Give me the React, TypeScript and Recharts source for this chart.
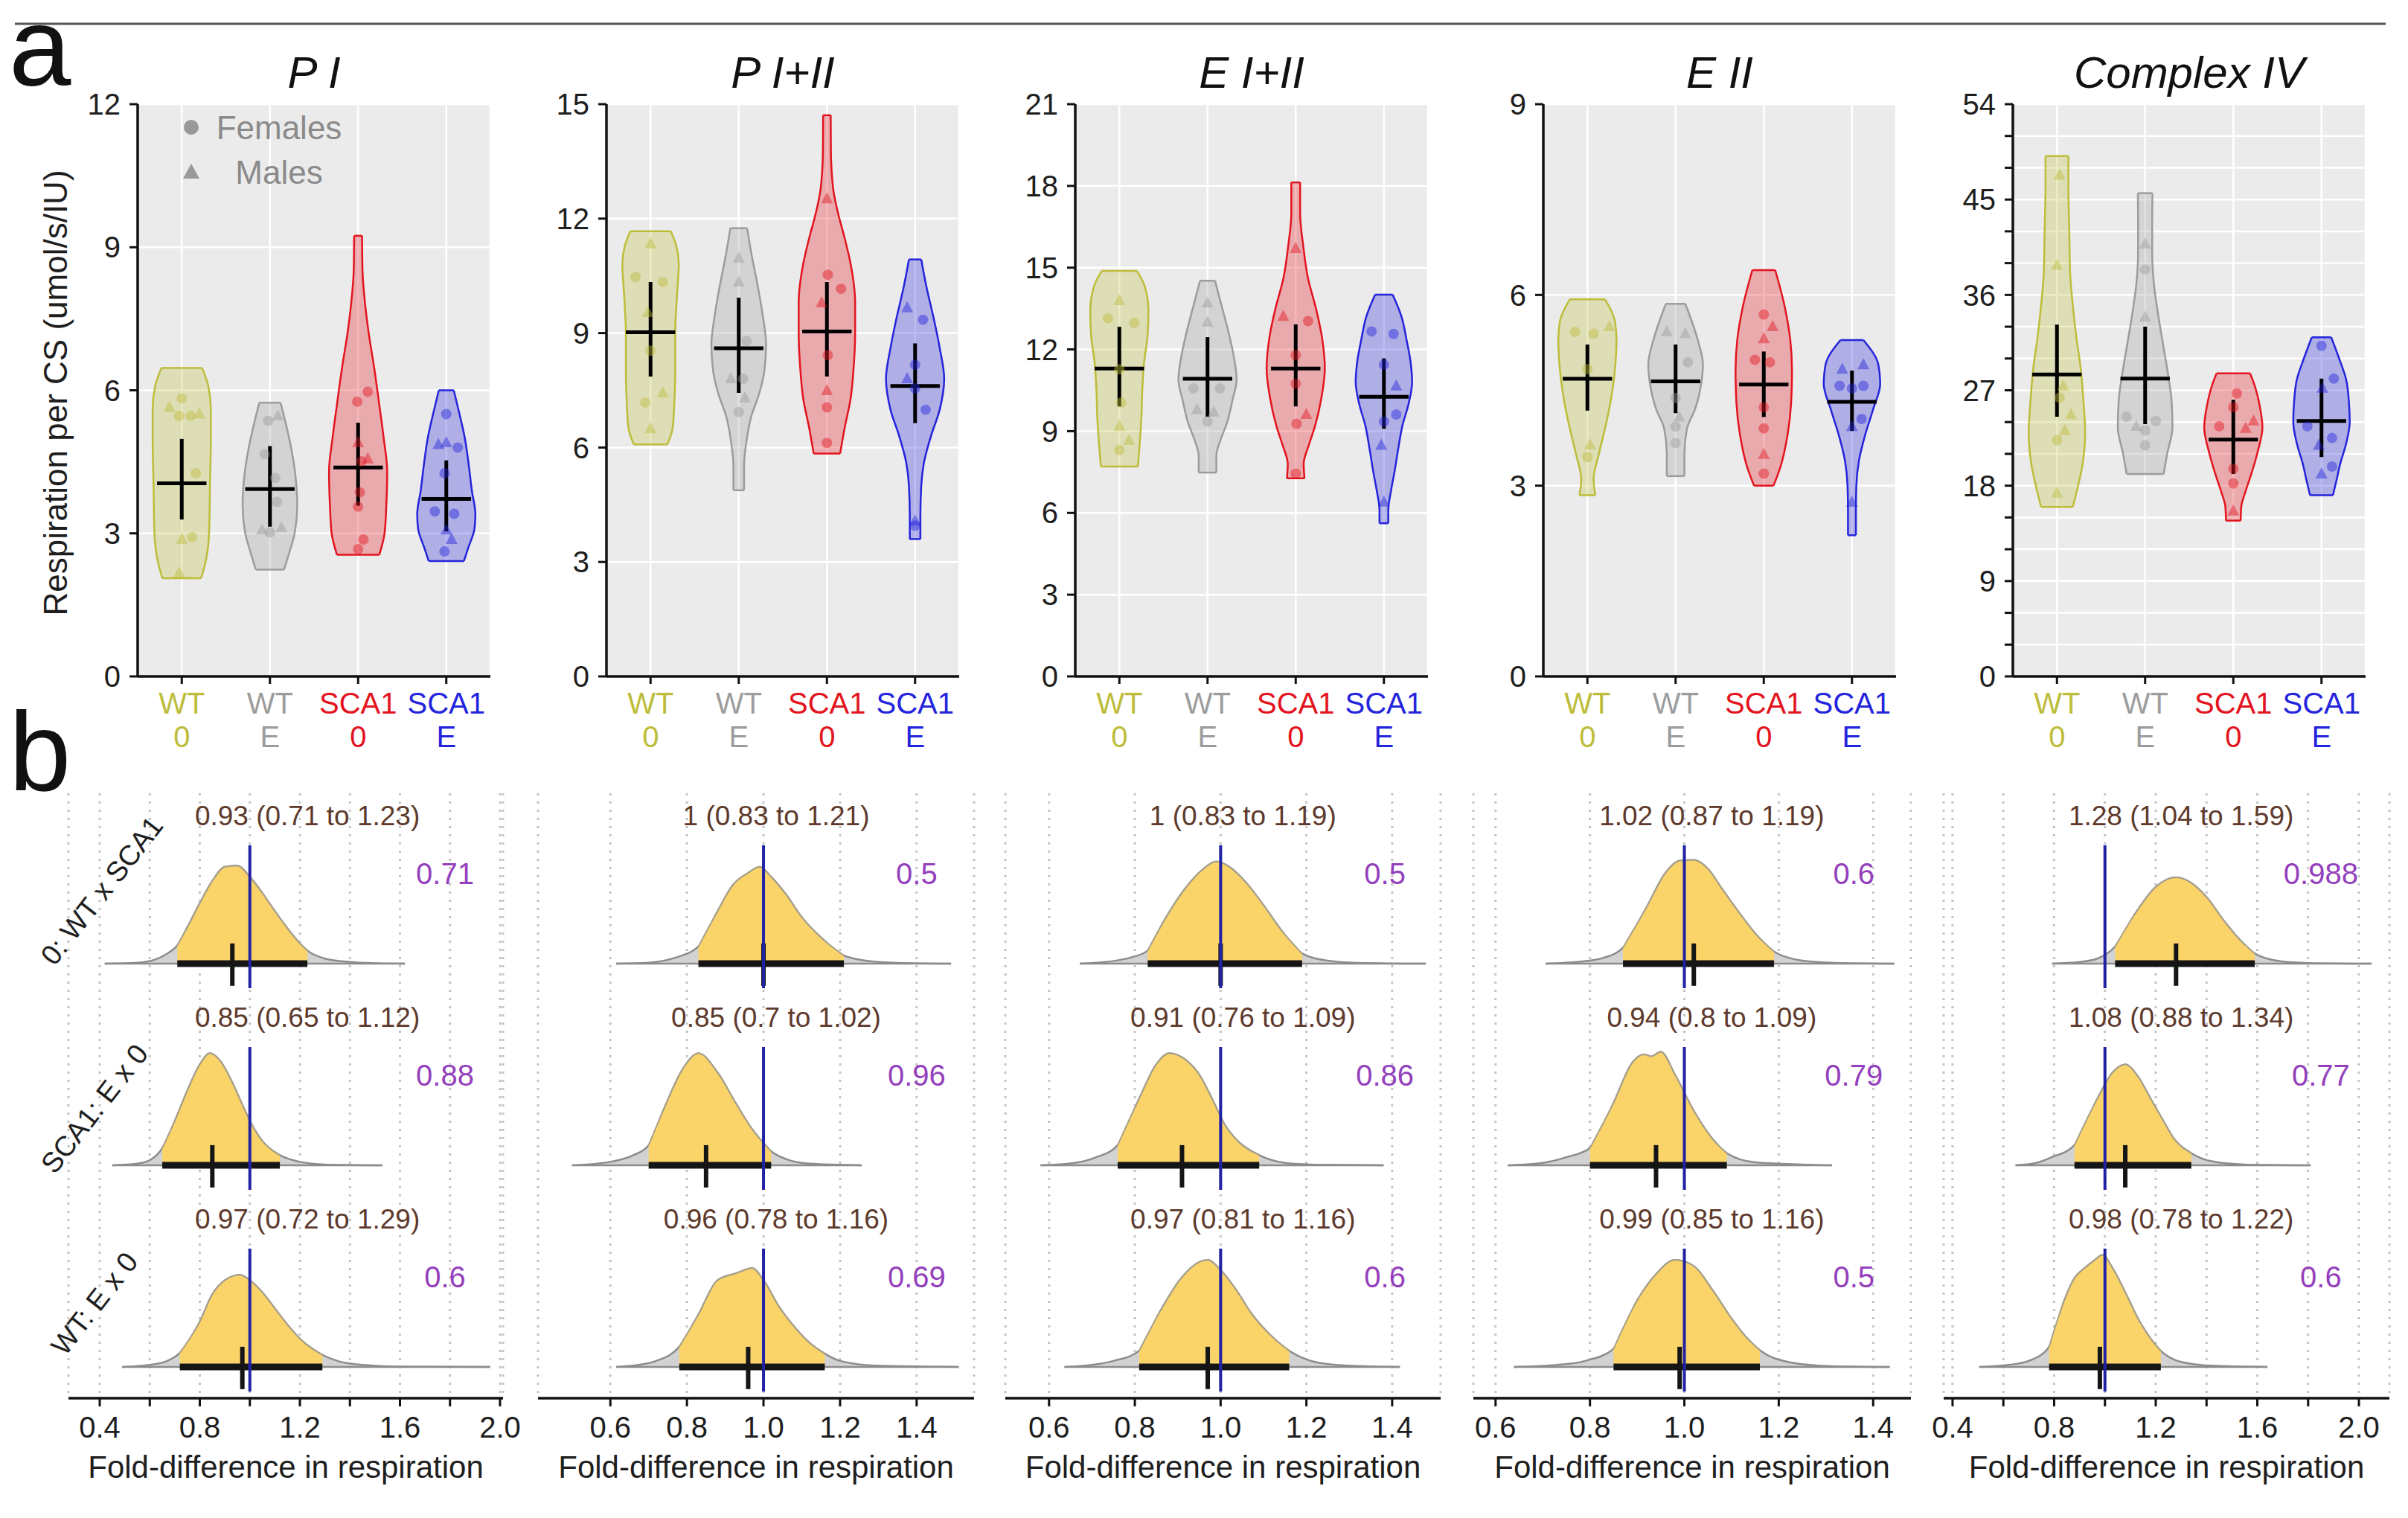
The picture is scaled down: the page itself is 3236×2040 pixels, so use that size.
import React from "react";
import {
  ComposedChart, Area, Scatter, XAxis, YAxis, CartesianGrid, ReferenceLine,
} from "recharts";

const FONT = "'Liberation Sans', Arial, sans-serif";

// groups on the x axis of panel a
const GROUP_TOP = ["WT", "WT", "SCA1", "SCA1"];
const GROUP_BOTTOM = ["0", "E", "0", "E"];
const GROUP_COLORS = ["#BDBD3A", "#9C9C9C", "#E3141E", "#2424DC"];

const PANEL_TITLES = ["P I", "P I+II", "E I+II", "E II", "Complex IV"];
const PANEL_MAX = [12, 15, 21, 9, 54];
const PANEL_LABEL_STEP = [3, 3, 3, 3, 9];
const PANEL_LEFT = [185, 815, 1445, 2074, 2705];

// violin outlines: [value, half-width in category units]
const violinPI = [
  [[2.06, 0.22], [2.4, 0.27], [3.0, 0.31], [4.0, 0.32], [5.0, 0.33], [5.6, 0.33], [6.1, 0.3], [6.47, 0.23]],
  [[2.24, 0.16], [2.6, 0.22], [3.0, 0.28], [3.6, 0.31], [4.2, 0.29], [4.8, 0.24], [5.3, 0.18], [5.74, 0.12]],
  [[2.55, 0.24], [3.0, 0.3], [3.6, 0.32], [4.3, 0.33], [5.0, 0.29], [5.7, 0.24], [6.5, 0.18], [7.2, 0.12], [7.8, 0.08], [8.5, 0.05], [9.24, 0.045]],
  [[2.42, 0.2], [2.7, 0.25], [3.1, 0.32], [3.4, 0.33], [3.9, 0.29], [4.5, 0.25], [5.0, 0.21], [5.5, 0.15], [6.0, 0.085]],
];
const violinPII = [
  [[6.08, 0.19], [6.5, 0.25], [7.2, 0.27], [8.0, 0.28], [9.0, 0.28], [10.0, 0.3], [10.8, 0.32], [11.3, 0.29], [11.67, 0.23]],
  [[4.88, 0.06], [5.5, 0.06], [6.2, 0.09], [6.8, 0.14], [7.4, 0.23], [8.0, 0.29], [8.7, 0.31], [9.5, 0.27], [10.3, 0.21], [11.0, 0.15], [11.75, 0.095]],
  [[5.84, 0.15], [6.5, 0.2], [7.3, 0.27], [8.0, 0.3], [9.0, 0.32], [9.8, 0.32], [10.8, 0.27], [11.5, 0.2], [12.2, 0.12], [12.8, 0.07], [13.8, 0.045], [14.71, 0.043]],
  [[3.6, 0.06], [4.2, 0.06], [5.0, 0.07], [5.6, 0.1], [6.3, 0.18], [7.0, 0.28], [7.8, 0.33], [8.6, 0.28], [9.4, 0.21], [10.2, 0.13], [10.93, 0.07]],
];
const violinEI = [
  [[7.7, 0.21], [8.5, 0.23], [9.5, 0.25], [10.5, 0.26], [11.5, 0.28], [12.5, 0.32], [13.4, 0.33], [14.3, 0.29], [14.88, 0.2]],
  [[7.48, 0.1], [8.1, 0.1], [8.7, 0.15], [9.3, 0.22], [10.1, 0.28], [10.9, 0.33], [11.7, 0.3], [12.6, 0.24], [13.6, 0.16], [14.52, 0.085]],
  [[7.27, 0.1], [7.8, 0.09], [8.5, 0.15], [9.2, 0.22], [10.2, 0.29], [11.3, 0.33], [12.4, 0.3], [13.5, 0.23], [14.6, 0.14], [15.8, 0.085], [17.0, 0.05], [18.13, 0.05]],
  [[5.62, 0.05], [6.1, 0.05], [6.8, 0.08], [7.5, 0.12], [8.3, 0.16], [9.2, 0.21], [10.0, 0.28], [10.8, 0.32], [11.6, 0.3], [12.3, 0.26], [13.2, 0.2], [14.01, 0.1]],
];
const violinEII = [
  [[2.85, 0.09], [3.1, 0.07], [3.5, 0.13], [3.9, 0.2], [4.3, 0.26], [4.8, 0.31], [5.3, 0.33], [5.6, 0.31], [5.93, 0.2]],
  [[3.15, 0.1], [3.5, 0.1], [3.9, 0.13], [4.2, 0.22], [4.6, 0.29], [4.9, 0.31], [5.3, 0.25], [5.6, 0.18], [5.86, 0.11]],
  [[3.0, 0.11], [3.3, 0.19], [3.8, 0.27], [4.3, 0.31], [4.8, 0.32], [5.3, 0.3], [5.8, 0.24], [6.39, 0.13]],
  [[2.22, 0.045], [2.6, 0.045], [3.0, 0.05], [3.4, 0.08], [3.8, 0.15], [4.2, 0.24], [4.6, 0.32], [4.9, 0.3], [5.29, 0.13]],
];
const violinCIV = [
  [[16.0, 0.18], [18.0, 0.24], [20.0, 0.29], [23.0, 0.32], [26.0, 0.3], [29.0, 0.27], [32.0, 0.22], [35.0, 0.18], [38.0, 0.15], [42.0, 0.14], [46.0, 0.13], [49.1, 0.13]],
  [[19.1, 0.21], [21.0, 0.25], [23.5, 0.31], [26.0, 0.3], [28.5, 0.26], [31.0, 0.21], [34.0, 0.15], [37.0, 0.1], [40.0, 0.08], [43.0, 0.08], [45.6, 0.083]],
  [[14.7, 0.083], [16.0, 0.09], [17.5, 0.14], [19.0, 0.2], [21.0, 0.27], [23.5, 0.33], [25.5, 0.3], [27.5, 0.24], [28.6, 0.19]],
  [[17.1, 0.13], [18.5, 0.17], [20.0, 0.21], [22.0, 0.28], [24.0, 0.32], [26.0, 0.31], [28.0, 0.28], [30.0, 0.2], [32.0, 0.11]],
];

// individual animals: [jitter, value, male?]
const pointsPI = [
  [[0, 5.83, 0], [-0.14, 5.64, 1], [0.1, 5.46, 0], [-0.03, 5.46, 0], [0.2, 5.5, 1], [0.16, 4.26, 0], [0, 2.87, 1], [0.12, 2.92, 0], [-0.03, 2.17, 1]],
  [[0.09, 5.46, 1], [-0.02, 5.36, 0], [0.06, 4.16, 0], [-0.09, 3.07, 1], [0, 3.02, 0], [0.13, 3.12, 1], [-0.06, 4.66, 0], [0.08, 3.66, 0]],
  [[0.11, 5.97, 0], [-0.01, 5.76, 0], [0, 4.9, 1], [0.04, 4.51, 0], [0.11, 4.56, 1], [0.02, 3.86, 0], [0, 3.56, 0], [0.06, 2.87, 0], [0, 2.67, 0]],
  [[0, 5.5, 0], [0, 4.9, 1], [0.13, 4.8, 0], [-0.09, 4.86, 1], [-0.02, 4.26, 0], [-0.13, 3.46, 0], [0.09, 3.41, 0], [0, 3.07, 1], [0.06, 2.87, 1], [-0.02, 2.62, 0]],
];
const pointsPII = [
  [[0, 11.34, 1], [-0.17, 10.47, 0], [0.14, 10.34, 0], [-0.03, 9.54, 1], [0, 8.54, 0], [0.14, 7.43, 1], [-0.06, 7.18, 0], [0, 6.49, 1]],
  [[0, 10.96, 1], [0, 10.34, 1], [0.09, 8.79, 0], [0.05, 7.8, 0], [-0.09, 7.8, 1], [0.07, 7.3, 1], [0, 6.93, 0]],
  [[0, 12.52, 1], [0.01, 10.53, 0], [0.16, 10.16, 0], [-0.06, 9.79, 1], [0.01, 8.42, 0], [0, 7.49, 1], [0, 7.05, 0], [0, 6.12, 0]],
  [[-0.09, 9.66, 1], [0.09, 9.35, 0], [0, 8.17, 0], [-0.09, 7.8, 1], [0, 7.55, 0], [0.12, 6.99, 0], [0, 4.07, 1], [0, 3.95, 0]],
];
const pointsEI = [
  [[0, 13.79, 1], [-0.13, 13.14, 0], [0.17, 12.97, 0], [0.02, 10.05, 0], [0, 11.27, 0], [0, 9.18, 1], [0.11, 8.66, 1], [0, 8.31, 0]],
  [[0, 13.7, 1], [0, 13.0, 1], [-0.16, 10.57, 0], [0.14, 10.57, 0], [-0.12, 9.79, 1], [0, 9.35, 0], [0.07, 9.7, 1]],
  [[0, 15.7, 1], [-0.14, 13.21, 1], [0.14, 13.04, 0], [0, 11.79, 0], [0, 10.74, 0], [0.12, 9.61, 1], [0.01, 9.27, 0], [0, 7.44, 0]],
  [[-0.14, 12.66, 0], [0.11, 12.57, 0], [0, 11.44, 0], [0.14, 10.66, 1], [0.14, 9.61, 0], [0, 9.35, 0], [-0.03, 8.48, 1], [0, 6.4, 1]],
];
const pointsEII = [
  [[-0.14, 5.42, 0], [0.07, 5.39, 0], [0.25, 5.5, 1], [0, 4.83, 0], [0.03, 3.64, 1], [0, 3.45, 0]],
  [[-0.1, 5.42, 1], [0.11, 5.39, 1], [0.14, 4.94, 0], [0, 4.38, 0], [0.04, 4.08, 1], [0, 3.93, 0], [0, 3.67, 0]],
  [[0, 5.69, 0], [0.1, 5.5, 1], [0, 5.31, 1], [-0.1, 4.98, 0], [0.07, 4.94, 0], [0, 4.23, 0], [0, 3.9, 0], [0, 3.49, 1], [0, 3.19, 0]],
  [[-0.11, 4.83, 1], [0.13, 4.9, 1], [-0.14, 4.57, 0], [0.13, 4.57, 0], [0, 4.53, 0], [0.11, 4.05, 0], [0, 3.93, 1], [0, 2.74, 1]],
];
const pointsCIV = [
  [[0.03, 47.3, 1], [0, 38.8, 1], [0.07, 27.4, 1], [0.03, 26.3, 0], [0.16, 24.7, 1], [0.09, 23.2, 1], [0, 22.3, 0], [0, 17.3, 1]],
  [[0, 40.8, 1], [0, 38.4, 0], [0, 33.9, 1], [-0.21, 24.5, 0], [0.12, 24.1, 0], [-0.1, 23.6, 1], [0, 23.2, 0], [0, 21.8, 0]],
  [[0.04, 26.7, 0], [0, 25.4, 0], [-0.16, 23.6, 0], [0.23, 24.1, 1], [0.14, 23.4, 1], [0, 19.6, 0], [0, 18.2, 0], [0, 15.6, 1]],
  [[0, 31.2, 0], [0.14, 28.1, 0], [0.01, 27.2, 1], [-0.16, 23.6, 0], [0.12, 22.5, 0], [-0.03, 21.8, 1], [0.12, 19.8, 0], [0, 19.1, 1]],
];

// group means and intervals
const meanA = [
  [4.05, 3.93, 4.38, 3.72], [9.02, 8.6, 9.04, 7.61], [11.3, 10.92, 11.3, 10.26], [4.68, 4.64, 4.59, 4.32], [28.5, 28.1, 22.35, 24.1],
];
const lowA = [
  [3.29, 3.14, 3.58, 3.04], [7.86, 7.43, 7.86, 6.64], [9.91, 9.53, 9.91, 9.09], [4.18, 4.14, 4.08, 3.86], [24.5, 23.8, 19.1, 20.7],
];
const highA = [
  [4.98, 4.83, 5.32, 4.53], [10.34, 9.93, 10.34, 8.73], [12.83, 12.45, 12.92, 11.67], [5.22, 5.22, 5.11, 4.81], [33.2, 33.0, 26.1, 28.1],
];

const VIOLINS = [violinPI, violinPII, violinEI, violinEII, violinCIV];
const POINTS = [pointsPI, pointsPII, pointsEI, pointsEII, pointsCIV];

// ---- panel b ----
const ROW_LABELS = ["0: WT x SCA1", "SCA1: E x 0", "WT: E x 0"];
const ROW_BASE = [2, 1, 0];

const medianB = [[0.93, 0.85, 0.97], [1, 0.85, 0.96], [1, 0.91, 0.97], [1.02, 0.94, 0.99], [1.28, 1.08, 0.98]];
const lowB = [[0.71, 0.65, 0.72], [0.83, 0.7, 0.78], [0.83, 0.76, 0.81], [0.87, 0.8, 0.85], [1.04, 0.88, 0.78]];
const highB = [[1.23, 1.12, 1.29], [1.21, 1.02, 1.16], [1.19, 1.09, 1.16], [1.19, 1.09, 1.16], [1.59, 1.34, 1.22]];
const probB = [["0.71", "0.88", "0.6"], ["0.5", "0.96", "0.69"], ["0.5", "0.86", "0.6"], ["0.6", "0.79", "0.5"], ["0.988", "0.77", "0.6"]];

// posterior densities: [fold difference, height]
const densPI = [
  [[0.42, 0], [0.55, 0.005], [0.62, 0.02], [0.67, 0.05], [0.71, 0.09], [0.75, 0.18], [0.8, 0.3], [0.85, 0.41], [0.9, 0.48], [0.95, 0.485], [1.0, 0.43], [1.05, 0.35], [1.1, 0.26], [1.15, 0.175], [1.2, 0.1], [1.23, 0.065], [1.3, 0.025], [1.4, 0.008], [1.5, 0.002], [1.62, 0]],
  [[0.45, 0], [0.55, 0.008], [0.6, 0.025], [0.65, 0.085], [0.7, 0.22], [0.75, 0.37], [0.8, 0.5], [0.84, 0.555], [0.88, 0.52], [0.93, 0.41], [0.97, 0.3], [1.0, 0.22], [1.05, 0.12], [1.1, 0.065], [1.12, 0.05], [1.2, 0.017], [1.3, 0.004], [1.53, 0]],
  [[0.49, 0], [0.6, 0.01], [0.67, 0.03], [0.72, 0.07], [0.8, 0.225], [0.85, 0.36], [0.9, 0.43], [0.96, 0.457], [1.0, 0.43], [1.05, 0.37], [1.1, 0.29], [1.15, 0.21], [1.2, 0.14], [1.25, 0.09], [1.29, 0.06], [1.35, 0.03], [1.45, 0.01], [1.6, 0.002], [1.96, 0]],
];
const densPII = [
  [[0.615, 0], [0.7, 0.005], [0.77, 0.03], [0.83, 0.085], [0.88, 0.26], [0.92, 0.39], [0.96, 0.45], [0.99, 0.48], [1.02, 0.43], [1.06, 0.34], [1.1, 0.23], [1.15, 0.13], [1.21, 0.04], [1.28, 0.012], [1.35, 0.004], [1.49, 0]],
  [[0.5, 0], [0.6, 0.017], [0.66, 0.05], [0.7, 0.1], [0.74, 0.28], [0.79, 0.48], [0.83, 0.555], [0.88, 0.46], [0.93, 0.3], [0.97, 0.18], [1.0, 0.11], [1.02, 0.07], [1.06, 0.03], [1.12, 0.008], [1.256, 0]],
  [[0.615, 0], [0.68, 0.012], [0.72, 0.03], [0.78, 0.1], [0.83, 0.26], [0.88, 0.43], [0.93, 0.465], [0.97, 0.49], [1.0, 0.43], [1.04, 0.3], [1.08, 0.2], [1.12, 0.12], [1.16, 0.066], [1.2, 0.03], [1.3, 0.006], [1.51, 0]],
];
const densEI = [
  [[0.672, 0], [0.74, 0.01], [0.79, 0.03], [0.83, 0.065], [0.87, 0.22], [0.92, 0.38], [0.96, 0.47], [0.99, 0.506], [1.02, 0.48], [1.06, 0.4], [1.1, 0.29], [1.14, 0.17], [1.19, 0.05], [1.25, 0.015], [1.32, 0.004], [1.478, 0]],
  [[0.58, 0], [0.66, 0.012], [0.71, 0.04], [0.76, 0.1], [0.81, 0.33], [0.85, 0.5], [0.88, 0.555], [0.92, 0.52], [0.95, 0.45], [0.98, 0.33], [1.01, 0.2], [1.04, 0.12], [1.09, 0.05], [1.15, 0.012], [1.22, 0.003], [1.38, 0]],
  [[0.636, 0], [0.7, 0.01], [0.75, 0.03], [0.81, 0.08], [0.86, 0.28], [0.91, 0.445], [0.95, 0.52], [0.97, 0.53], [1.0, 0.48], [1.04, 0.37], [1.07, 0.27], [1.12, 0.15], [1.16, 0.08], [1.22, 0.025], [1.3, 0.006], [1.418, 0]],
];
const densEII = [
  [[0.706, 0], [0.78, 0.01], [0.83, 0.03], [0.87, 0.08], [0.92, 0.28], [0.96, 0.45], [0.99, 0.51], [1.02, 0.514], [1.05, 0.47], [1.08, 0.37], [1.12, 0.24], [1.15, 0.15], [1.19, 0.06], [1.25, 0.015], [1.32, 0.004], [1.445, 0]],
  [[0.626, 0], [0.7, 0.012], [0.75, 0.04], [0.8, 0.086], [0.85, 0.31], [0.89, 0.51], [0.915, 0.55], [0.93, 0.54], [0.95, 0.563], [0.98, 0.45], [1.02, 0.27], [1.06, 0.13], [1.09, 0.06], [1.15, 0.015], [1.313, 0]],
  [[0.639, 0], [0.73, 0.01], [0.79, 0.03], [0.85, 0.09], [0.9, 0.33], [0.94, 0.46], [0.98, 0.53], [1.02, 0.5], [1.06, 0.38], [1.1, 0.24], [1.13, 0.15], [1.16, 0.083], [1.23, 0.02], [1.3, 0.005], [1.435, 0]],
];
const densCIV = [
  [[0.792, 0], [0.9, 0.008], [0.97, 0.025], [1.04, 0.085], [1.12, 0.25], [1.2, 0.38], [1.28, 0.428], [1.34, 0.4], [1.4, 0.33], [1.47, 0.21], [1.53, 0.12], [1.59, 0.05], [1.69, 0.012], [1.8, 0.003], [2.05, 0]],
  [[0.648, 0], [0.73, 0.012], [0.79, 0.04], [0.88, 0.1], [0.97, 0.33], [1.03, 0.46], [1.08, 0.5], [1.13, 0.44], [1.18, 0.33], [1.23, 0.22], [1.27, 0.135], [1.34, 0.06], [1.42, 0.02], [1.55, 0.004], [1.81, 0]],
  [[0.505, 0], [0.62, 0.01], [0.7, 0.03], [0.78, 0.1], [0.84, 0.33], [0.88, 0.44], [0.92, 0.49], [0.96, 0.53], [0.99, 0.555], [1.03, 0.49], [1.08, 0.37], [1.13, 0.24], [1.18, 0.14], [1.22, 0.08], [1.3, 0.025], [1.42, 0.006], [1.64, 0]],
];
const DENS = [densPI, densPII, densEI, densEII, densCIV];

const B_LEFT = [92, 723, 1351, 1980, 2612];
const B_RIGHT = [676, 1309, 1936, 2568, 3211];
const B_DOMAIN = [[0.275, 2.012], [0.411, 1.55], [0.498, 1.513], [0.553, 1.48], [0.365, 2.12]];
const WIDE_TICKS = [0.4, 0.6, 0.8, 1.0, 1.2, 1.4, 1.6, 1.8, 2.0];
const NARROW_TICKS = [0.6, 0.8, 1.0, 1.2, 1.4];
const B_TICKS = [WIDE_TICKS, NARROW_TICKS, NARROW_TICKS, NARROW_TICKS, WIDE_TICKS];
const LABEL_X = [1.23, 1.033, 1.052, 1.058, 1.3];
const PROB_X = [1.78, 1.4, 1.383, 1.359, 1.85];

const GOLD = "#FAD468";
const BROWN = "#5E3A2C";
const PURPLE = "#9440BC";
const NAVY = "#2222A6";

const range = (max: number, step: number) => {
  const out: number[] = [];
  for (let v = 0; v <= max + 1e-9; v += step) out.push(v);
  return out;
};

function GroupTick(props: any) {
  const { x, y, payload } = props;
  const i = Math.round(payload.value);
  return (
    <g>
      <text x={x} y={y + 24} textAnchor="middle" dominantBaseline="central" fontSize={40} fill={GROUP_COLORS[i]}>
        {GROUP_TOP[i]}
      </text>
      <text x={x} y={y + 69} textAnchor="middle" dominantBaseline="central" fontSize={40} fill={GROUP_COLORS[i]}>
        {GROUP_BOTTOM[i]}
      </text>
    </g>
  );
}

const pointShape = (color: string) => (p: any) => {
  const { cx, cy, payload } = p;
  if (cx == null || cy == null) return <g />;
  if (payload.male) {
    return <polygon points={`${cx},${cy - 9} ${cx - 8},${cy + 6} ${cx + 8},${cy + 6}`} fill={color} fillOpacity={0.45} />;
  }
  return <circle cx={cx} cy={cy} r={7} fill={color} fillOpacity={0.45} />;
};

const textShape = (color: string, size: number) => (p: any) => {
  const { cx, cy, payload } = p;
  if (cx == null || cy == null) return <g />;
  return (
    <text x={cx} y={cy} textAnchor="middle" dominantBaseline="central" fontSize={size} fill={color}>
      {payload.text}
    </text>
  );
};

const Y_W = 130;
const PLOT_W = 474;
const PLOT_H = 769;
const TOP_PAD = 30;

function ViolinPanel({ idx }: { idx: number }) {
  const max = PANEL_MAX[idx];
  const yTicks = range(max, 3);
  const step = PANEL_LABEL_STEP[idx];
  return (
    <div style={{ position: "absolute", left: PANEL_LEFT[idx] - Y_W, top: 140 - TOP_PAD }}>
      <ComposedChart
        layout="vertical"
        width={Y_W + PLOT_W + 10}
        height={TOP_PAD + PLOT_H + 110}
        margin={{ top: TOP_PAD, right: 10, bottom: 0, left: 0 }}
      >
        <CartesianGrid fill="#EBEBEB" stroke="#FFFFFF" strokeWidth={2.5} />
        <XAxis
          type="number"
          dataKey="x"
          domain={[-0.5, 3.5]}
          ticks={[0, 1, 2, 3]}
          interval={0}
          allowDataOverflow
          height={110}
          tickSize={10}
          tickMargin={2}
          tick={(p: any) => <GroupTick {...p} />}
          axisLine={{ stroke: "#111", strokeWidth: 3.5 }}
          tickLine={{ stroke: "#111", strokeWidth: 3 }}
        />
        <YAxis
          type="number"
          dataKey="y"
          reversed
          domain={[0, max]}
          ticks={yTicks}
          interval={0}
          allowDataOverflow
          width={Y_W}
          tickSize={11}
          tickMargin={12}
          tick={{ fontSize: 40, fill: "#1e1e1e" }}
          tickFormatter={(v: number) => (Math.round(v) % step === 0 ? String(v) : "")}
          axisLine={{ stroke: "#111", strokeWidth: 3.5 }}
          tickLine={{ stroke: "#111", strokeWidth: 3 }}
        />
        {VIOLINS[idx].map((prof, g) => (
          <Area
            key={`v${g}`}
            data={prof.map(([y, w]) => ({ y, v: [g - w, g + w] }))}
            dataKey="v"
            type="monotone"
            fill={GROUP_COLORS[g]}
            fillOpacity={0.3}
            stroke={GROUP_COLORS[g]}
            strokeWidth={2.5}
            dot={false}
            activeDot={false}
            isAnimationActive={false}
          />
        ))}
        {VIOLINS[idx].map((prof, g) =>
          [prof[0], prof[prof.length - 1]].map(([y, w], k) => (
            <ReferenceLine
              key={`cap${g}-${k}`}
              segment={[{ x: g - w, y }, { x: g + w, y }]}
              stroke={GROUP_COLORS[g]}
              strokeWidth={2.5}
            />
          ))
        )}
        {POINTS[idx].map((pts, g) => (
          <Scatter
            key={`p${g}`}
            data={pts.map(([dx, y, m]) => ({ x: g + dx, y, male: m === 1 }))}
            shape={pointShape(GROUP_COLORS[g])}
            isAnimationActive={false}
          />
        ))}
        {meanA[idx].map((m, g) => (
          <ReferenceLine
            key={`h${g}`}
            segment={[{ x: g - 0.28, y: m }, { x: g + 0.28, y: m }]}
            stroke="#000"
            strokeWidth={5}
          />
        ))}
        {meanA[idx].map((_, g) => (
          <ReferenceLine
            key={`c${g}`}
            segment={[{ x: g, y: lowA[idx][g] }, { x: g, y: highA[idx][g] }]}
            stroke="#000"
            strokeWidth={5}
          />
        ))}
      </ComposedChart>
    </div>
  );
}

const B_TOP = 1066;
const B_H = 813;
const B_PAD = 40;

function DensityColumn({ col }: { col: number }) {
  const w = B_RIGHT[col] - B_LEFT[col];
  const wide = B_TICKS[col] === WIDE_TICKS;
  return (
    <div style={{ position: "absolute", left: B_LEFT[col] - B_PAD, top: B_TOP - 20 }}>
      <ComposedChart
        width={w + 2 * B_PAD}
        height={20 + B_H + 140}
        margin={{ top: 20, right: B_PAD, bottom: 0, left: B_PAD }}
      >
        <CartesianGrid horizontal={false} stroke="#C4C4C4" strokeWidth={3} strokeDasharray="3 8" />
        <XAxis
          type="number"
          dataKey="x"
          domain={B_DOMAIN[col]}
          ticks={B_TICKS[col]}
          interval={0}
          allowDataOverflow
          height={140}
          tickSize={11}
          tickMargin={14}
          tick={{ fontSize: 40, fill: "#1e1e1e" }}
          tickFormatter={(v: number) => (wide && Math.round(v * 10) % 4 !== 0 ? "" : v.toFixed(1))}
          axisLine={{ stroke: "#111", strokeWidth: 3.5 }}
          tickLine={{ stroke: "#111", strokeWidth: 3 }}
          label={{ value: "Fold-difference in respiration", position: "insideBottom", offset: 33, fontSize: 42, fill: "#1e1e1e" }}
        />
        <YAxis type="number" dataKey="y" domain={[-0.155, 2.845]} allowDataOverflow hide />
        {DENS[col].map((dens, r) => (
          <Area
            key={`g${r}`}
            data={dens.map(([x, h]) => ({ x, d: [ROW_BASE[r], ROW_BASE[r] + h] }))}
            dataKey="d"
            type="monotone"
            fill="#D2D2D2"
            fillOpacity={1}
            stroke="#8C8C8C"
            strokeWidth={2.5}
            dot={false}
            activeDot={false}
            isAnimationActive={false}
          />
        ))}
        {DENS[col].map((dens, r) => (
          <Area
            key={`y${r}`}
            data={dens
              .filter(([x]) => x >= lowB[col][r] - 1e-9 && x <= highB[col][r] + 1e-9)
              .map(([x, h]) => ({ x, d: [ROW_BASE[r], ROW_BASE[r] + h] }))}
            dataKey="d"
            type="monotone"
            fill={GOLD}
            fillOpacity={1}
            stroke="#A8A08A"
            strokeWidth={2}
            dot={false}
            activeDot={false}
            isAnimationActive={false}
          />
        ))}
        {ROW_BASE.map((b, r) => (
          <ReferenceLine
            key={`ci${r}`}
            segment={[{ x: lowB[col][r], y: b }, { x: highB[col][r], y: b }]}
            stroke="#151515"
            strokeWidth={9}
          />
        ))}
        {ROW_BASE.map((b, r) => (
          <ReferenceLine
            key={`md${r}`}
            segment={[{ x: medianB[col][r], y: b - 0.11 }, { x: medianB[col][r], y: b + 0.1 }]}
            stroke="#151515"
            strokeWidth={6}
          />
        ))}
        {ROW_BASE.map((b, r) => (
          <ReferenceLine
            key={`one${r}`}
            segment={[{ x: 1, y: b - 0.122 }, { x: 1, y: b + 0.587 }]}
            stroke={NAVY}
            strokeWidth={4}
          />
        ))}
        <Scatter
          data={ROW_BASE.map((b, r) => ({
            x: LABEL_X[col],
            y: b + 0.734,
            text: `${medianB[col][r]} (${lowB[col][r]} to ${highB[col][r]})`,
          }))}
          shape={textShape(BROWN, 37)}
          isAnimationActive={false}
        />
        <Scatter
          data={ROW_BASE.map((b, r) => ({ x: PROB_X[col], y: b + 0.446, text: probB[col][r] }))}
          shape={textShape(PURPLE, 40)}
          isAnimationActive={false}
        />
      </ComposedChart>
    </div>
  );
}

function Overlay() {
  const rowLabelPos = [[137, 1197], [127, 1490], [127, 1752]];
  return (
    <svg width={3236} height={2040} style={{ position: "absolute", left: 0, top: 0, pointerEvents: "none" }}>
      <line x1={20} y1={32} x2={3206} y2={32} stroke="#555" strokeWidth={3} />
      <text x={12} y={115} fontSize={150} fill="#111">a</text>
      <text x={12} y={1062} fontSize={150} fill="#111">b</text>
      {PANEL_TITLES.map((t, i) => (
        <text key={t} x={PANEL_LEFT[i] + PLOT_W / 2} y={118} textAnchor="middle" fontSize={60} fontStyle="italic" fill="#111">
          {t}
        </text>
      ))}
      <text
        x={74}
        y={528}
        textAnchor="middle"
        dominantBaseline="central"
        fontSize={44}
        fill="#1e1e1e"
        transform="rotate(-90 74 528)"
      >
        Respiration per CS (umol/s/IU)
      </text>
      <circle cx={257} cy={171} r={10} fill="#999" />
      <polygon points="257,220 246,240 268,240" fill="#999" />
      <text x={375} y={171} textAnchor="middle" dominantBaseline="central" fontSize={44} fill="#8A8A8A">Females</text>
      <text x={375} y={231} textAnchor="middle" dominantBaseline="central" fontSize={44} fill="#8A8A8A">Males</text>
      {ROW_LABELS.map((t, r) => (
        <text
          key={t}
          x={rowLabelPos[r][0]}
          y={rowLabelPos[r][1]}
          textAnchor="middle"
          dominantBaseline="central"
          fontSize={38}
          fill="#1e1e1e"
          transform={`rotate(-52 ${rowLabelPos[r][0]} ${rowLabelPos[r][1]})`}
        >
          {t}
        </text>
      ))}
    </svg>
  );
}

export default function App() {
  return (
    <div style={{ position: "absolute", left: 0, top: 0, width: 3236, height: 2040, background: "#fff", fontFamily: FONT }}>
      {PANEL_TITLES.map((_, i) => (
        <ViolinPanel key={i} idx={i} />
      ))}
      {DENS.map((_, c) => (
        <DensityColumn key={c} col={c} />
      ))}
      <Overlay />
    </div>
  );
}
